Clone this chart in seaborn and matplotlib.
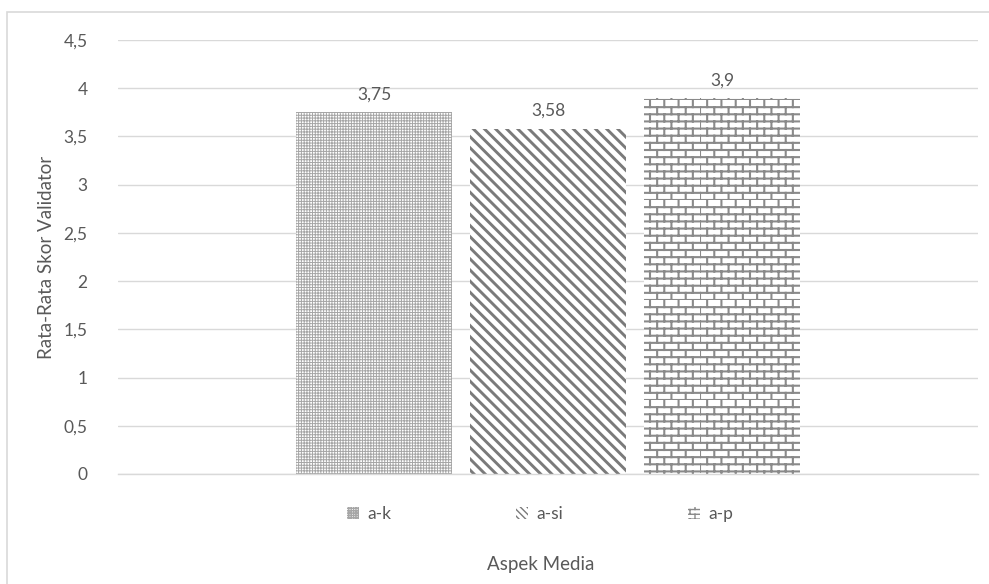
import warnings
import matplotlib
matplotlib.use("Agg")
import matplotlib.pyplot as plt
import matplotlib.hatch as mhatch
from matplotlib.path import Path
import seaborn as sns
import pandas as pd
from matplotlib.patches import Rectangle

warnings.filterwarnings("ignore")

# Chart data
aspek = ["a-k", "a-si", "a-p"]
skor = [3.75, 3.58, 3.9]
y_ticks = [0, 0.5, 1, 1.5, 2, 2.5, 3, 3.5, 4, 4.5]


class BrickHatch(mhatch.HatchPatternBase):
    """Brick-wall hatch, selected with the character 'b'."""

    def __init__(self, hatch, density):
        n = hatch.count("b")
        self.rows = 7 * n
        self.bricks = max(self.rows // 2, 1)
        if n:
            self.num_vertices = 2 * self.rows + 2 * self.rows * self.bricks
        else:
            self.num_vertices = 0

    def set_vertices_and_codes(self, vertices, codes):
        k = 0
        h = 1.0 / self.rows
        w = 1.0 / self.bricks
        for i in range(self.rows):
            y = i * h
            vertices[k] = (0.0, y)
            vertices[k + 1] = (1.0, y)
            codes[k] = Path.MOVETO
            codes[k + 1] = Path.LINETO
            k += 2
            off = 0.5 * w * (i % 2)
            for j in range(self.bricks):
                x = (j * w + off) % 1.0
                vertices[k] = (x, y)
                vertices[k + 1] = (x, y + h)
                codes[k] = Path.MOVETO
                codes[k + 1] = Path.LINETO
                k += 2


mhatch._hatch_types.append(BrickHatch)

df = pd.DataFrame({"kategori": [""] * len(aspek), "aspek": aspek, "skor": skor})

sns.set_theme(style="white")
plt.rcParams["font.family"] = ["Lato", "DejaVu Sans"]

text_grey = "#595959"
grid_grey = "#d9d9d9"

fig = plt.figure(figsize=(9.89, 5.84), dpi=100)
ax = fig.add_axes([0.1193, 0.1884, 0.8697, 0.7431])

sns.barplot(data=df, x="kategori", y="skor", hue="aspek", hue_order=aspek,
            palette=["white"] * 3, width=0.607, gap=0.1, ax=ax,
            legend=False, edgecolor="none", linewidth=0)

hatches = ["++++++", "\\\\\\", "bb"]
hatch_lw = [0.7, 2.1, 1.5]
hatch_col = ["#a6a6a6", "#7a7a7a", "#8a8a8a"]
for cont, h, lw, c in zip(ax.containers, hatches, hatch_lw, hatch_col):
    for bar in cont:
        bar.set_hatch(h)
        bar.set_edgecolor(c)
        try:
            bar.set_hatch_linewidth(lw)
        except AttributeError:
            pass
    ax.bar_label(cont, labels=[f"{v:g}".replace(".", ",") for v in cont.datavalues],
                 padding=7, fontsize=12.5, color=text_grey)

ax.set_ylim(0, 4.5)
ax.set_xlim(-0.5, 0.5)
ax.set_yticks(y_ticks)
ax.set_yticklabels([f"{t:g}".replace(".", ",") for t in y_ticks])
ax.tick_params(axis="y", length=0, pad=22, labelsize=12.5, labelcolor=text_grey)
ax.tick_params(axis="x", length=0, labelbottom=False)
ax.yaxis.grid(True, color=grid_grey, linewidth=1)
ax.set_axisbelow(True)
for s in ["top", "right", "left"]:
    ax.spines[s].set_visible(False)
ax.spines["bottom"].set_color(grid_grey)
ax.spines["bottom"].set_linewidth(1)

ax.set_ylabel("Rata-Rata Skor Validator", fontsize=13.5, color=text_grey, labelpad=6)
ax.set_xlabel("")
fig.text(0.5465, 0.033, "Aspek Media", ha="center", va="center",
         fontsize=13.5, color=text_grey)

# Legend with small hatched swatches
handles = []
for h, lw, c in zip(["+++++++", "\\\\\\\\\\", "bbb"], [0.6, 2.2, 1.0], hatch_col):
    p = Rectangle((0, 0), 1, 1, facecolor="white", edgecolor=c,
                  hatch=h, linewidth=0)
    try:
        p.set_hatch_linewidth(lw)
    except AttributeError:
        pass
    handles.append(p)
fig.legend(handles, aspek, loc="center", bbox_to_anchor=(0.546, 0.12), ncol=3,
           frameon=False, fontsize=12.5, labelcolor=text_grey,
           handlelength=0.7, handleheight=0.7, handletextpad=0.45,
           columnspacing=7.2)

# Outer chart frame
fig.patches.append(Rectangle((0.007, -0.01), 0.995, 0.99, transform=fig.transFigure,
                             fill=False, edgecolor=grid_grey, linewidth=1.2))

fig.savefig("out.png", dpi=100, facecolor="white")
